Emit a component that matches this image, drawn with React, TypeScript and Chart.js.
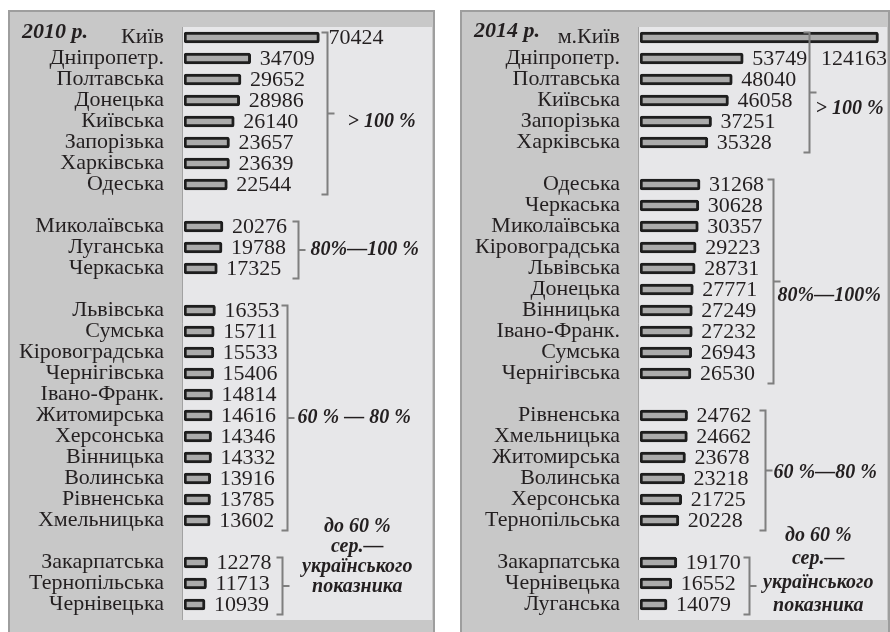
import React, { useEffect, useRef } from 'react';
import { Chart, registerables } from 'chart.js';

Chart.register(...registerables);

// ---------- data ----------
const regions2010 = [
  'Київ', 'Дніпропетр.', 'Полтавська', 'Донецька', 'Київська', 'Запорізька', 'Харківська', 'Одеська', '',
  'Миколаївська', 'Луганська', 'Черкаська', '',
  'Львівська', 'Сумська', 'Кіровоградська', 'Чернігівська', 'Івано-Франк.', 'Житомирська', 'Херсонська',
  'Вінницька', 'Волинська', 'Рівненська', 'Хмельницька', '',
  'Закарпатська', 'Тернопільська', 'Чернівецька',
];
const values2010 = [
  70424, 34709, 29652, 28986, 26140, 23657, 23639, 22544, null,
  20276, 19788, 17325, null,
  16353, 15711, 15533, 15406, 14814, 14616, 14346, 14332, 13916, 13785, 13602, null,
  12278, 11713, 10939,
];
const groupRows2010 = [[0, 7], [9, 11], [13, 23], [25, 27]];
const groupLabels2010 = [['> 100 %'], ['80%—100 %'], ['60 % — 80 %'], ['до 60 %', 'сер.—', 'українського', 'показника']];

const regions2014 = [
  'м.Київ', 'Дніпропетр.', 'Полтавська', 'Київська', 'Запорізька', 'Харківська', '',
  'Одеська', 'Черкаська', 'Миколаївська', 'Кіровоградська', 'Львівська', 'Донецька', 'Вінницька',
  'Івано-Франк.', 'Сумська', 'Чернігівська', '',
  'Рівненська', 'Хмельницька', 'Житомирська', 'Волинська', 'Херсонська', 'Тернопільська', '',
  'Закарпатська', 'Чернівецька', 'Луганська',
];
const values2014 = [
  124163, 53749, 48040, 46058, 37251, 35328, null,
  31268, 30628, 30357, 29223, 28731, 27771, 27249, 27232, 26943, 26530, null,
  24762, 24662, 23678, 23218, 21725, 20228, null,
  19170, 16552, 14079,
];
const groupRows2014 = [[0, 5], [7, 16], [18, 23], [25, 27]];
const groupLabels2014 = [['> 100 %'], ['80%—100%'], ['60 %—80 %'], ['до 60 %', 'сер.—', 'українського', 'показника']];

const title2010 = '2010 р.';
const title2014 = '2014 р.';

// ---------- styling ----------
const FONT = '"Liberation Serif", "Times New Roman", serif';
const INK = '#231f20';
const FRAME = '#c8c8c8';
const FRAME_LINE = '#9e9e9e';
const PLOT_BG = '#e7e7e9';
const BRACKET = '#7f7f7f';

type Decor = { pad: number; dx?: number; dy?: number; lineStart?: number; lineGap?: number };

const decor2010: Decor[] = [
  { pad: 12, dx: 20, dy: 8 },
  { pad: 11, dx: 12, dy: 0 },
  { pad: 8, dx: 10, dy: 0 },
  { pad: 10, lineStart: -59, lineGap: 20 },
];
const decor2014: Decor[] = [
  { pad: 2, dx: 6, dy: 16 },
  { pad: 9, dx: 4, dy: 14 },
  { pad: 13, dx: 8, dy: 2 },
  { pad: 8, lineStart: -50, lineGap: 23.3 },
];

type PanelProps = {
  left: number;
  width: number;
  axisW: number;
  xMax: number;
  title: string;
  titleY: number;
  labels: string[];
  values: (number | null)[];
  groups: number[][];
  groupLabels: string[][];
  decor: Decor[];
};

function Panel(p: PanelProps) {
  const ref = useRef<HTMLCanvasElement>(null);
  useEffect(() => {
    if (!ref.current) return;
    const decorPlugin = {
      id: 'panelDecor',
      beforeDraw(chart: any) {
        const { ctx, chartArea: ca, width, height } = chart;
        ctx.save();
        ctx.fillStyle = FRAME;
        ctx.fillRect(0, 0, width, height);
        ctx.strokeStyle = FRAME_LINE;
        ctx.lineWidth = 2;
        ctx.strokeRect(1, 1, p.width - 2, height + 40);
        ctx.fillStyle = PLOT_BG;
        ctx.fillRect(ca.left - 1, ca.top, ca.right - ca.left + 1, ca.bottom + 5 - ca.top);
        ctx.strokeStyle = '#a2a2a2';
        ctx.lineWidth = 1;
        ctx.beginPath();
        ctx.moveTo(ca.left - 1.5, ca.top);
        ctx.lineTo(ca.left - 1.5, ca.bottom + 5);
        ctx.stroke();
        ctx.restore();
      },
      afterDatasetsDraw(chart: any) {
        const { ctx, chartArea: ca } = chart;
        const meta = chart.getDatasetMeta(0);
        const yScale = chart.scales.y;
        ctx.save();
        // value labels
        ctx.font = `22px ${FONT}`;
        ctx.fillStyle = INK;
        ctx.textBaseline = 'middle';
        const textEnds: number[] = [];
        p.values.forEach((v, i) => {
          if (v == null) return;
          const el = meta.data[i];
          const txt = String(v);
          const w = ctx.measureText(txt).width;
          let x = el.x + 9;
          if (x + w > ca.right + 2) {
            ctx.textAlign = 'right';
            ctx.fillText(txt, ca.right, yScale.getPixelForValue(i + 1) + 1);
            textEnds[i] = -1;
          } else {
            ctx.textAlign = 'left';
            ctx.fillText(txt, x, el.y + 1);
            textEnds[i] = x + w;
          }
        });
        // brackets and group labels
        p.groups.forEach(([from, to], gi) => {
          const d = p.decor[gi];
          let maxEnd = 0;
          for (let i = from; i <= to; i++) {
            if (i === 0) continue;
            if (textEnds[i] != null && textEnds[i] > maxEnd) maxEnd = textEnds[i];
          }
          const bx = Math.round(maxEnd + d.pad) + 0.5;
          const top = yScale.getPixelForValue(from) - 5;
          const bottom = yScale.getPixelForValue(to) + 10;
          const mid = (top + bottom) / 2;
          ctx.strokeStyle = BRACKET;
          ctx.lineWidth = 2;
          ctx.beginPath();
          ctx.moveTo(bx - 6, top);
          ctx.lineTo(bx, top);
          ctx.lineTo(bx, bottom);
          ctx.lineTo(bx - 6, bottom);
          ctx.moveTo(bx, mid);
          ctx.lineTo(bx + 7, mid);
          ctx.stroke();

          const lines = p.groupLabels[gi];
          ctx.font = `italic bold 20px ${FONT}`;
          ctx.fillStyle = INK;
          ctx.textBaseline = 'middle';
          if (lines.length === 1) {
            ctx.textAlign = 'left';
            ctx.fillText(lines[0], bx + (d.dx || 0), mid + (d.dy || 0));
          } else {
            ctx.textAlign = 'center';
            const cx = (bx + ca.right) / 2;
            lines.forEach((ln, li) => {
              ctx.fillText(ln, cx, mid + (d.lineStart || 0) + li * (d.lineGap || 20));
            });
          }
        });
        // title
        ctx.font = `italic bold 22px ${FONT}`;
        ctx.textAlign = 'left';
        ctx.textBaseline = 'alphabetic';
        ctx.fillStyle = INK;
        ctx.fillText(p.title, 14, p.titleY);
        ctx.restore();
      },
    };

    const chart = new Chart(ref.current, {
      type: 'bar',
      data: {
        labels: p.labels,
        datasets: [
          {
            data: p.values as any,
            backgroundColor: '#ababab',
            borderColor: '#1e1e1e',
            borderWidth: 3,
            borderSkipped: false,
            borderRadius: 2.5,
            barThickness: 11,
          },
        ],
      },
      options: {
        indexAxis: 'y',
        responsive: false,
        animation: false,
        layout: { padding: { left: 0, right: 3, top: 17, bottom: 17 } },
        plugins: {
          legend: { display: false },
          tooltip: { enabled: false },
        },
        scales: {
          x: { display: false, min: 0, max: p.xMax },
          y: {
            grid: { display: false, drawTicks: false },
            border: { display: false },
            ticks: {
              autoSkip: false,
              padding: 20,
              color: INK,
              font: { family: FONT, size: 22 },
            },
            afterFit: (s: any) => {
              s.width = p.axisW;
              s.paddingTop = 0;
              s.paddingBottom = 0;
            },
          },
        },
      },
      plugins: [decorPlugin],
    } as any);
    return () => chart.destroy();
  }, []);
  return (
    <canvas
      ref={ref}
      width={p.width}
      height={622}
      style={{ position: 'absolute', left: p.left, top: 10, width: p.width, height: 622, display: 'block' }}
    />
  );
}

export default function App() {
  return (
    <div style={{ position: 'absolute', left: 0, top: 0, width: 890, height: 632, overflow: 'hidden', background: '#fff' }}>
      <Panel
        left={8}
        width={427}
        axisW={176}
        xMax={129000}
        title={title2010}
        titleY={28}
        labels={regions2010}
        values={values2010}
        groups={groupRows2010}
        groupLabels={groupLabels2010}
        decor={decor2010}
      />
      <Panel
        left={460}
        width={430}
        axisW={180}
        xMax={128600}
        title={title2014}
        titleY={27}
        labels={regions2014}
        values={values2014}
        groups={groupRows2014}
        groupLabels={groupLabels2014}
        decor={decor2014}
      />
    </div>
  );
}
